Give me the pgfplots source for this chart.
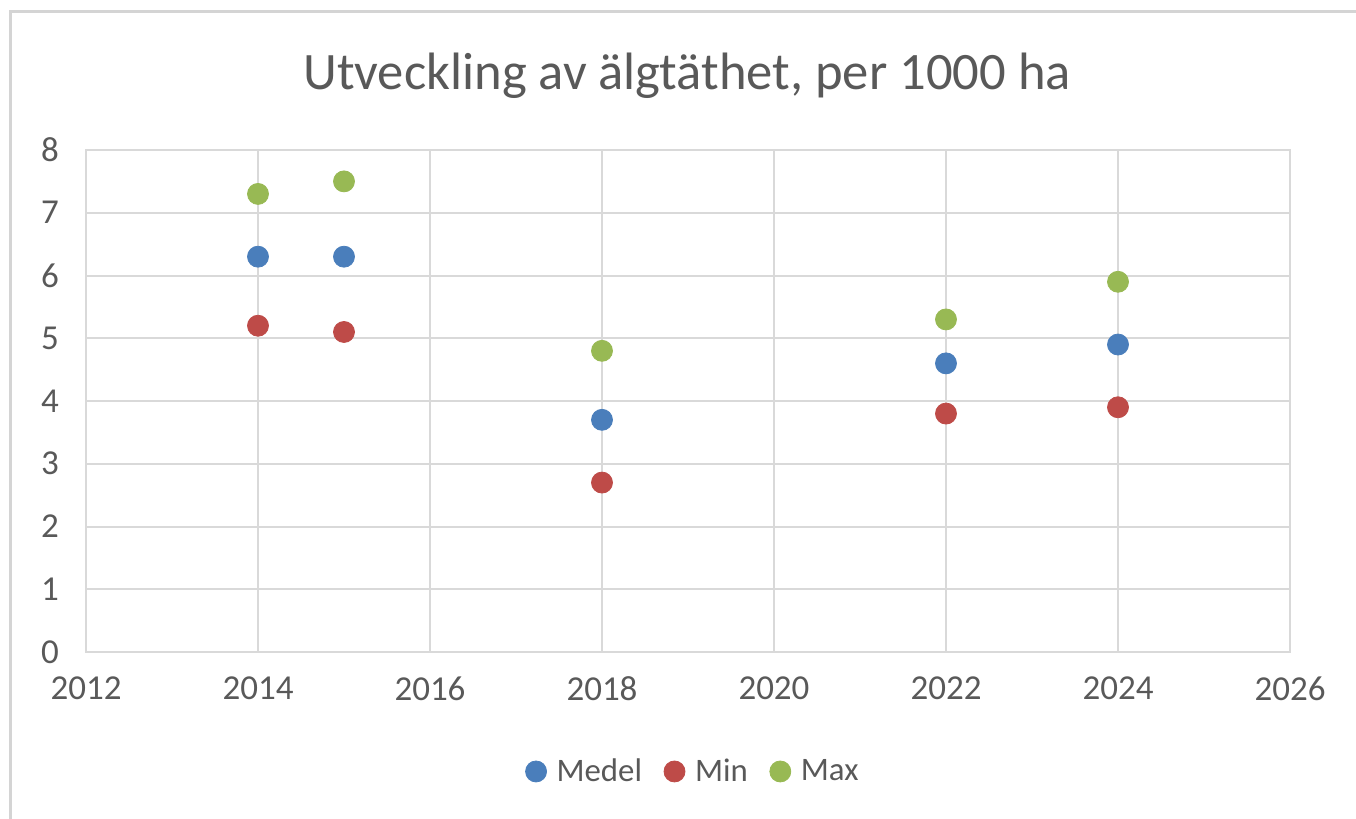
\documentclass[border=0pt]{standalone}
\usepackage{pgfplots}
\pgfplotsset{compat=1.18}
\usepackage{fontspec}
\setmainfont{Carlito}
\definecolor{cblue}{HTML}{4A7EBB}
\definecolor{cred}{HTML}{BE4B48}
\definecolor{cgreen}{HTML}{98B954}
\definecolor{cgrid}{HTML}{D9D9D9}
\definecolor{ctext}{HTML}{595959}
\definecolor{cborder}{HTML}{D4D4D4}
\begin{document}
\begin{tikzpicture}
\useasboundingbox (0,0) rectangle (678pt,409.5pt);
\draw[cborder, line width=1.5pt] (5pt,0) -- (5pt,403.5pt) -- (678pt,403.5pt);
\node[text=ctext, font=\fontsize{26.3}{31}\selectfont] at (343.5pt,371.5pt) {Utveckling av älgtäthet, per 1000 ha};
\begin{axis}[
  at={(43pt,83.5pt)}, anchor=south west,
  scale only axis, width=602pt, height=251pt,
  xmin=2012, xmax=2026, ymin=0, ymax=8,
  xtick={2012,2014,...,2026}, ytick={0,1,...,8},
  grid=major, major grid style={cgrid, line width=1pt},
  axis line style={cgrid, line width=1pt},
  tick style={draw=none},
  ticklabel style={text=ctext, font=\fontsize{17.5}{20}\selectfont},
  /pgf/number format/assume math mode=true,
  /pgf/number format/1000 sep={},
  xticklabel style={yshift=-9pt},
  yticklabel style={xshift=-10pt},
  legend style={at={(0.505,-0.238)}, anchor=center, draw=none, fill=none,
    legend columns=3, font=\fontsize{16.4}{19}\selectfont, text=ctext,
    /tikz/every odd column/.append style={column sep=3pt},
    /tikz/every even column/.append style={column sep=9pt}},
  legend cell align=left,
  legend image code/.code={\draw[#1] plot coordinates {(0.12cm,0cm)};},
]
\addplot[only marks, mark=*, mark size=5.25pt, cblue, mark options={draw=cblue, fill=cblue}] coordinates {
(2014,6.3) (2015,6.3) (2018,3.7) (2022,4.6) (2024,4.9)};
\addlegendentry{Medel}
\addplot[only marks, mark=*, mark size=5.25pt, cred, mark options={draw=cred, fill=cred}] coordinates {
(2014,5.2) (2015,5.1) (2018,2.7) (2022,3.8) (2024,3.9)};
\addlegendentry{Min}
\addplot[only marks, mark=*, mark size=5.25pt, cgreen, mark options={draw=cgreen, fill=cgreen}] coordinates {
(2014,7.3) (2015,7.5) (2018,4.8) (2022,5.3) (2024,5.9)};
\addlegendentry{Max}
\end{axis}
\end{tikzpicture}
\end{document}
